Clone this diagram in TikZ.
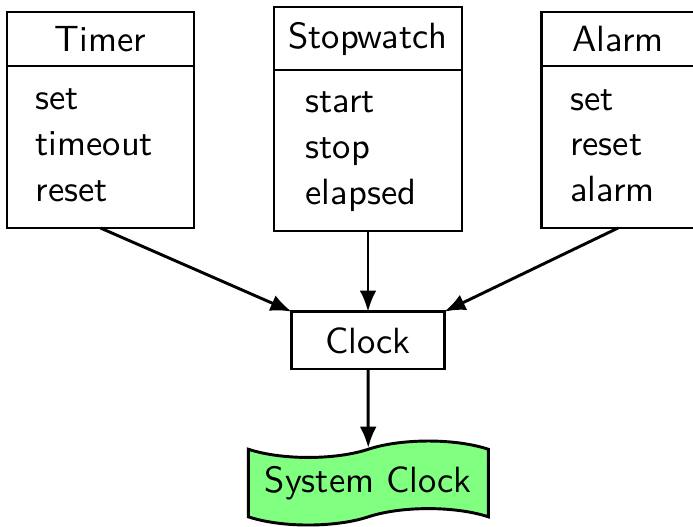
\documentclass[tikz,border=0pt]{standalone}
\usepackage{fontspec}
\usetikzlibrary{shapes.symbols,arrows.meta}
\def\pxu{0.274pt}
\begin{document}
\begin{tikzpicture}[x={(\pxu,0)}, y={(0,-\pxu)},
  font=\sffamily\fontsize{10}{12.5}\selectfont,
  part/.style={draw, thick, inner sep=0pt, outer sep=0pt},
  items/.style={align=left, inner sep=0pt, anchor=base west},
  arr/.style={thick, -{Latex[length=5.8pt,width=4.6pt]}}]
\useasboundingbox (0,0) rectangle (693,526);

% Timer class: name compartment above operation compartment
\node[part, minimum width=187*\pxu, minimum height=54*\pxu] (timerhead) at (100.5,39) {Timer};
\node[part, minimum width=187*\pxu, minimum height=162*\pxu, anchor=north] (timerbody) at (timerhead.south) {};
\node[items] (timerops) at (35,201) {set\\timeout\\reset};

% Stopwatch class
\node[part, minimum width=188*\pxu, minimum height=63*\pxu] (swhead) at (368,38.5) {Stopwatch};
\node[part, minimum width=188*\pxu, minimum height=161*\pxu, anchor=north] (swbody) at (swhead.south) {};
\node[items] (swops) at (305,204) {start\\stop\\elapsed};

% Alarm class
\node[part, minimum width=152.6*\pxu, minimum height=54*\pxu] (alarmhead) at (618,39) {Alarm};
\node[part, minimum width=152.6*\pxu, minimum height=162*\pxu, anchor=north] (alarmbody) at (alarmhead.south) {};
\node[items] (alarmops) at (569.5,201.5) {set\\reset\\alarm};

% Clock and the system clock it wraps
\node[part, minimum width=152.6*\pxu, minimum height=57.3*\pxu] (clock) at (368,340.3) {Clock};
\node[draw, thick, tape, fill=green!50, inner sep=0pt, tape bend height=4.5pt,
      minimum width=240*\pxu, minimum height=84*\pxu] (sysclock) at (368.3,483) {System Clock};

% Connectors
\draw[arr] (timerbody.south) -- (clock.north west);
\draw[arr] (swbody.south) -- (clock);
\draw[arr] (alarmbody.south) -- (clock.north east);
\draw[arr] (clock) -- (sysclock);
\end{tikzpicture}
\end{document}
